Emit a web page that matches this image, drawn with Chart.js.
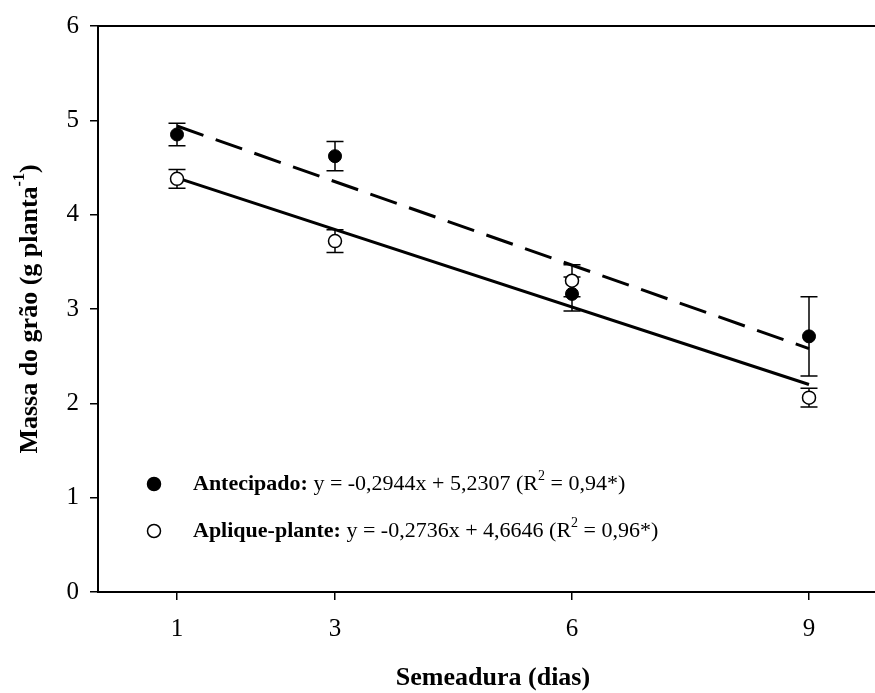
<!DOCTYPE html>
<html>
<head>
<meta charset="utf-8">
<script src="https://cdn.jsdelivr.net/npm/chart.js@4"></script>
<style>
    html, body { margin: 0; padding: 0; background: #fff; overflow: hidden; }
    #wrap { width: 900px; height: 693px; }
</style>
</head>
<body>
<div id="wrap"><canvas id="chart" width="900" height="693"></canvas></div>
<script>
// Semeadura (dias)
const dias = [1, 3, 6, 9];
const yTicks = [0, 1, 2, 3, 4, 5, 6];

// Mean values
const antecipado = [4.85, 4.62, 3.16, 2.71];
const antecipadoErr = [0.12, 0.155, 0.18, 0.42];
const apliquePlante = [4.38, 3.72, 3.30, 2.06];
const apliquePlanteErr = [0.10, 0.12, 0.17, 0.10];

// Fitted lines (end points)
const fitX = [1, 9];
const antecipadoFit = [4.94, 2.58];
const apliquePlanteFit = [4.39, 2.20];

const serif = '"Liberation Serif", "Times New Roman", serif';

function toPoints(xs, ys) {
    return xs.map((x, i) => ({ x: x, y: ys[i] }));
}

// error bars under the markers
const errorBars = {
    id: 'errorBars',
    beforeDatasetsDraw(chart) {
        const ctx = chart.ctx;
        const xs = chart.scales.x;
        const ys = chart.scales.y;
        const sets = [[antecipado, antecipadoErr], [apliquePlante, apliquePlanteErr]];
        ctx.save();
        ctx.strokeStyle = '#000';
        ctx.lineWidth = 1.5;
        sets.forEach(([vals, errs]) => {
            vals.forEach((v, i) => {
                const px = xs.getPixelForValue(dias[i]);
                const top = ys.getPixelForValue(v + errs[i]);
                const bot = ys.getPixelForValue(v - errs[i]);
                ctx.beginPath();
                ctx.moveTo(px, top); ctx.lineTo(px, bot);
                ctx.moveTo(px - 8.5, top); ctx.lineTo(px + 8.5, top);
                ctx.moveTo(px - 8.5, bot); ctx.lineTo(px + 8.5, bot);
                ctx.stroke();
            });
        });
        ctx.restore();
    }
};

// draw a run of text pieces with mixed fonts
function drawRich(ctx, parts, x, y) {
    parts.forEach(p => {
        ctx.font = p.font;
        ctx.fillText(p.t, x, y + (p.dy || 0));
        x += ctx.measureText(p.t).width;
    });
    return x;
}
function richWidth(ctx, parts) {
    let w = 0;
    parts.forEach(p => { ctx.font = p.font; w += ctx.measureText(p.t).width; });
    return w;
}

const annotations = {
    id: 'annotations',
    afterDraw(chart) {
        const ctx = chart.ctx;
        const area = chart.chartArea;
        ctx.save();

        // top frame line
        ctx.strokeStyle = '#000';
        ctx.lineWidth = 2;
        ctx.beginPath();
        ctx.moveTo(area.left, area.top);
        ctx.lineTo(area.right, area.top);
        ctx.stroke();

        ctx.fillStyle = '#000';
        ctx.textBaseline = 'middle';

        // x title
        ctx.font = 'bold 26px ' + serif;
        ctx.textAlign = 'center';
        ctx.fillText('Semeadura (dias)', (area.left + area.right) / 2, 678);

        // y title (rotated, with superscript)
        ctx.textAlign = 'left';
        const yParts = [
            { t: 'Massa do grão (g planta', font: 'bold 26px ' + serif },
            { t: '-1', font: 'bold 16px ' + serif, dy: -10 },
            { t: ')', font: 'bold 26px ' + serif }
        ];
        const yw = richWidth(ctx, yParts);
        ctx.save();
        ctx.translate(30, (area.top + area.bottom) / 2);
        ctx.rotate(-Math.PI / 2);
        drawRich(ctx, yParts, -yw / 2, 0);
        ctx.restore();

        // legend
        const rows = [
            { fill: '#000', y: 484, parts: [
                { t: 'Antecipado:', font: 'bold 22px ' + serif },
                { t: ' y = -0,2944x + 5,2307 (R', font: '22px ' + serif },
                { t: '2', font: '14px ' + serif, dy: -8 },
                { t: ' = 0,94*)', font: '22px ' + serif }
            ]},
            { fill: '#fff', y: 531, parts: [
                { t: 'Aplique-plante:', font: 'bold 22px ' + serif },
                { t: ' y = -0,2736x + 4,6646 (R', font: '22px ' + serif },
                { t: '2', font: '14px ' + serif, dy: -8 },
                { t: ' = 0,96*)', font: '22px ' + serif }
            ]}
        ];
        rows.forEach(r => {
            ctx.beginPath();
            ctx.arc(154, r.y, 6.5, 0, Math.PI * 2);
            ctx.fillStyle = r.fill;
            ctx.fill();
            ctx.lineWidth = 1.5;
            ctx.strokeStyle = '#000';
            ctx.stroke();
            ctx.fillStyle = '#000';
            drawRich(ctx, r.parts, 193, r.y);
        });
        ctx.restore();
    }
};

new Chart(document.getElementById('chart'), {
    type: 'scatter',
    data: {
        datasets: [
            {
                label: 'Antecipado',
                data: toPoints(dias, antecipado),
                pointRadius: 6.5,
                pointHoverRadius: 6.5,
                pointBackgroundColor: '#000',
                pointBorderColor: '#000',
                pointBorderWidth: 1
            },
            {
                label: 'Aplique-plante',
                data: toPoints(dias, apliquePlante),
                pointRadius: 6.5,
                pointHoverRadius: 6.5,
                pointBackgroundColor: '#fff',
                pointBorderColor: '#000',
                pointBorderWidth: 1.5
            },
            {
                label: 'Antecipado (ajuste)',
                type: 'line',
                data: toPoints(fitX, antecipadoFit),
                borderColor: '#000',
                borderWidth: 3,
                borderDash: [28, 13],
                pointRadius: 0,
                fill: false
            },
            {
                label: 'Aplique-plante (ajuste)',
                type: 'line',
                data: toPoints(fitX, apliquePlanteFit),
                borderColor: '#000',
                borderWidth: 3,
                pointRadius: 0,
                fill: false
            }
        ]
    },
    options: {
        responsive: false,
        animation: false,
        layout: { padding: { top: 24, right: 12, left: 0, bottom: 0 } },
        plugins: {
            legend: { display: false },
            tooltip: { enabled: false }
        },
        scales: {
            x: {
                type: 'linear',
                min: 0,
                max: 10,
                afterBuildTicks: (scale) => { scale.ticks = dias.map(v => ({ value: v })); },
                afterFit: (scale) => { scale.height = 101; },
                grid: { drawOnChartArea: false, drawTicks: true, tickLength: 8, color: '#000', lineWidth: 1.5 },
                border: { display: true, color: '#000', width: 2 },
                ticks: {
                    color: '#000',
                    padding: 14,
                    maxRotation: 0,
                    font: { family: serif, size: 25 }
                }
            },
            y: {
                min: 0,
                max: 6,
                afterBuildTicks: (scale) => { scale.ticks = yTicks.map(v => ({ value: v })); },
                afterFit: (scale) => { scale.width = 98; },
                grid: { drawOnChartArea: false, drawTicks: true, tickLength: 8, color: '#000', lineWidth: 1.5 },
                border: { display: true, color: '#000', width: 2 },
                ticks: {
                    color: '#000',
                    padding: 11,
                    font: { family: serif, size: 25 }
                }
            }
        }
    },
    plugins: [errorBars, annotations]
});
</script>
</body>
</html>
